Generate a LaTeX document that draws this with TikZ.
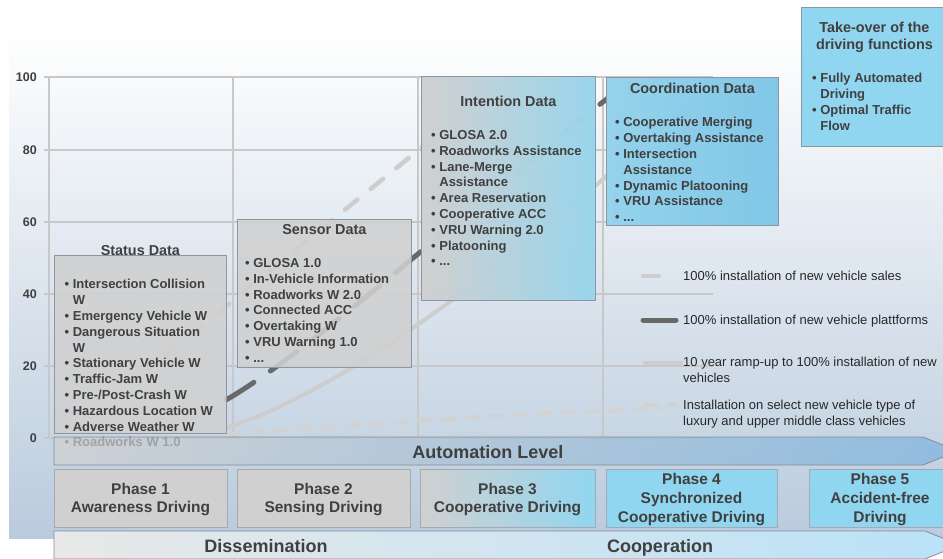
\documentclass[tikz,border=0pt]{standalone}
\usepackage{fontspec}
\setmainfont{Liberation Sans}
\usetikzlibrary{positioning}

\definecolor{txt}{RGB}{64,64,64}
\definecolor{legtxt}{RGB}{40,40,40}
\definecolor{grd}{RGB}{200,200,200}
\definecolor{boxgray}{RGB}{208,208,208}
\definecolor{boxline}{RGB}{140,150,162}
\definecolor{phline}{RGB}{165,170,178}
\definecolor{skyb}{RGB}{145,214,240}
\definecolor{skyl}{RGB}{140,211,239}
\definecolor{skyd}{RGB}{118,198,234}
\definecolor{panel}{RGB}{186,203,221}
\definecolor{lgt}{RGB}{205,205,205}
\definecolor{drk}{RGB}{105,105,105}
\definecolor{barblue}{RGB}{122,178,222}
\definecolor{barline}{RGB}{130,140,152}
\definecolor{dissl}{RGB}{232,232,232}
\definecolor{dissr}{RGB}{186,226,248}

\newcommand{\ind}{\phantom{\textbullet\ }}

\begin{document}
\begin{tikzpicture}[x=1pt,y=-1pt,
        grid/.style={draw=grd,line width=2.4pt},
        box/.style={
          draw=boxline,
          line width=0.8pt,
          fill=boxgray,
          fill opacity=0.88,
          inner sep=0pt,
          anchor=north west
        },
        tit/.style={
          font=\fontsize{14.4}{17}\selectfont\bfseries,
          text=txt,
          inner sep=0pt,
          align=center
        },
        lst/.style={
          font=\fontsize{13}{15.8}\selectfont\bfseries,
          text=txt,
          inner sep=0pt,
          align=left,
          anchor=north west
        },
        leg/.style={
          font=\fontsize{13}{16}\selectfont,
          text=legtxt,
          inner sep=0pt,
          align=left,
          anchor=north west
        },
        ylab/.style={font=\fontsize{12.5}{15}\selectfont\bfseries,text=txt,anchor=east,inner sep=0pt},
        sales/.style={draw=lgt,line width=4.5pt,line cap=round,dash pattern=on 16pt off 17pt},
        platf/.style={draw=drk,line width=5pt,line cap=round,dash pattern=on 33pt off 20pt},
        ramp/.style={draw=lgt,line width=4pt},
        selec/.style={draw=lgt!90,line width=4pt,dash pattern=on 15pt off 9pt},
        phas/.style={
          draw=phline,
          line width=0.8pt,
          fill=boxgray,
          minimum height=58pt,
          inner sep=0pt,
          text depth=0pt,
          font=\fontsize{15.5}{18.7}\selectfont\bfseries,
          text=txt,
          align=center
        },
        bar/.style={font=\fontsize{18}{20}\selectfont\bfseries,text=txt,inner sep=0pt,
          text height=12.9pt,text depth=0pt}
        ]
        \clip (0,0) rectangle (943,559);
        % background panel
        \shade[top color=white,bottom color=panel] (9,28) rectangle (950,538);

        % grid and axis
        \foreach \y in {77,150,222,294,366,438}
          \draw[grid] (44,\y) -- (713,\y);
        \foreach \x in {49,233,418,603}
          \draw[grid] (\x,77) -- (\x,438);
        \foreach \v/\y in {100/77,80/150,60/222,40/294,20/366,0/438}
          \node[ylab] (y\v) at (37,\y) {\v};

        % curves
        \draw[sales] (140,376) -- (495,88);
        \draw[ramp] (226,428) .. controls (330,395) and (480,290) .. (650,138);
        \draw[platf] (226,400) .. controls (320,345) and (470,205) .. (608,98);
        \draw[selec] (226,434) .. controls (400,422) and (500,414) .. (660,409);

        % data boxes
        \node[box,minimum width=172pt,minimum height=178pt] (status) at (54,255) {};
        \node[tit,above=-1pt of status] (statusT) {Status Data};
        \node[lst] (statusL) at (64.5,279.3)
          {\textbullet\ Intersection Collision\\\ind W\\\textbullet\ Emergency Vehicle W\\
           \textbullet\ Dangerous Situation\\\ind W\\\textbullet\ Stationary Vehicle W\\
           \textbullet\ Traffic-Jam W\\\textbullet\ Pre-/Post-Crash W\\
           \textbullet\ Hazardous Location W\\\textbullet\ Adverse Weather W\\
           \textbullet\ Roadworks W 1.0};

        \node[box,minimum width=174pt,minimum height=148pt] (sensor) at (237,219) {};
        \node[tit,below=5pt of sensor.north] (sensorT) {Sensor Data};
        \node[lst] (sensorL) at (245,258.3)
          {\textbullet\ GLOSA 1.0\\\textbullet\ In-Vehicle Information\\
           \textbullet\ Roadworks W 2.0\\\textbullet\ Connected ACC\\
           \textbullet\ Overtaking W\\\textbullet\ VRU Warning 1.0\\\textbullet\ ...};

        \node[box,left color=boxgray,right color=skyb,minimum width=174pt,minimum height=224pt] (intent) at (421,76) {};
        \node[tit,below=19.8pt of intent.north] (intentT) {Intention Data};
        \node[lst] (intentL) at (431,130.3)
          {\textbullet\ GLOSA 2.0\\\textbullet\ Roadworks Assistance\\
           \textbullet\ Lane-Merge\\\ind Assistance\\\textbullet\ Area Reservation\\
           \textbullet\ Cooperative ACC\\\textbullet\ VRU Warning 2.0\\
           \textbullet\ Platooning\\\textbullet\ ...};

        \node[box,left color=skyl,right color=skyd,minimum width=172pt,minimum height=148pt] (coord) at (606,77) {};
        \node[tit,below=5.8pt of coord.north] (coordT) {Coordination Data};
        \node[lst] (coordL) at (615,117.3)
          {\textbullet\ Cooperative Merging\\\textbullet\ Overtaking Assistance\\
           \textbullet\ Intersection\\\ind Assistance\\\textbullet\ Dynamic Platooning\\
           \textbullet\ VRU Assistance\\\textbullet\ ...};

        \node[box,fill=skyb,fill opacity=1,minimum width=146pt,minimum height=139pt] (take) at (801,7) {};
        \node[tit,below=14.8pt of take.north] (takeT) {Take-over of the\\driving functions};
        \node[lst] (takeL) at (812,73)
          {\textbullet\ Fully Automated\\\ind Driving\\\textbullet\ Optimal Traffic\\\ind Flow};

        % legend
        \draw[sales] (643,276) -- (662,276);
        \draw[platf] (643,320) -- (681,320);
        \draw[ramp] (643,363) -- (683,363);
        \draw[selec] (643,405) -- (677,405);
        \node[leg] (leg1) at (683,271.3) {100\% installation of new vehicle sales};
        \node[leg] (leg2) at (683,315.3) {100\% installation of new vehicle plattforms};
        \node[leg] (leg3) at (683,357.3) {10 year ramp-up to 100\% installation of new\\vehicles};
        \node[leg] (leg4) at (683,400.3) {Installation on select new vehicle type of\\luxury and upper middle class vehicles};

        % automation level
        \draw[draw=barline,line width=0.8pt,left color=boxgray,right color=barblue,fill opacity=0.7]
          (54,437) -- (923,437) -- (958,451) -- (923,465) -- (54,465) -- cycle;
        \node[bar] (autoL) at (488,452) {Automation Level};

        % phases
        \node[phas,minimum width=173pt] (ph1) at (140.5,498) {Phase 1\\Awareness Driving};
        \node[phas,minimum width=173pt] (ph2) at (323.5,498) {Phase 2\\Sensing Driving};
        \node[phas,left color=boxgray,right color=skyb,minimum width=175pt] (ph3) at (507.5,498) {Phase 3\\Cooperative Driving};
        \node[phas,fill=skyb,minimum width=171pt] (ph4) at (691.5,498) {Phase 4\\Synchronized\\Cooperative Driving};
        \node[phas,fill=skyb,minimum width=142pt] (ph5) at (880,498) {Phase 5\\Accident-free\\Driving};

        % dissemination / cooperation
        \draw[draw=barline,line width=0.8pt,left color=dissl,right color=dissr]
          (54,531) -- (925,531) -- (960,545) -- (925,559) -- (54,559) -- cycle;
        \node[bar] (dissL) at (266,546) {Dissemination};
        \node[bar] (coopL) at (660,546) {Cooperation};
\end{tikzpicture}
\end{document}
